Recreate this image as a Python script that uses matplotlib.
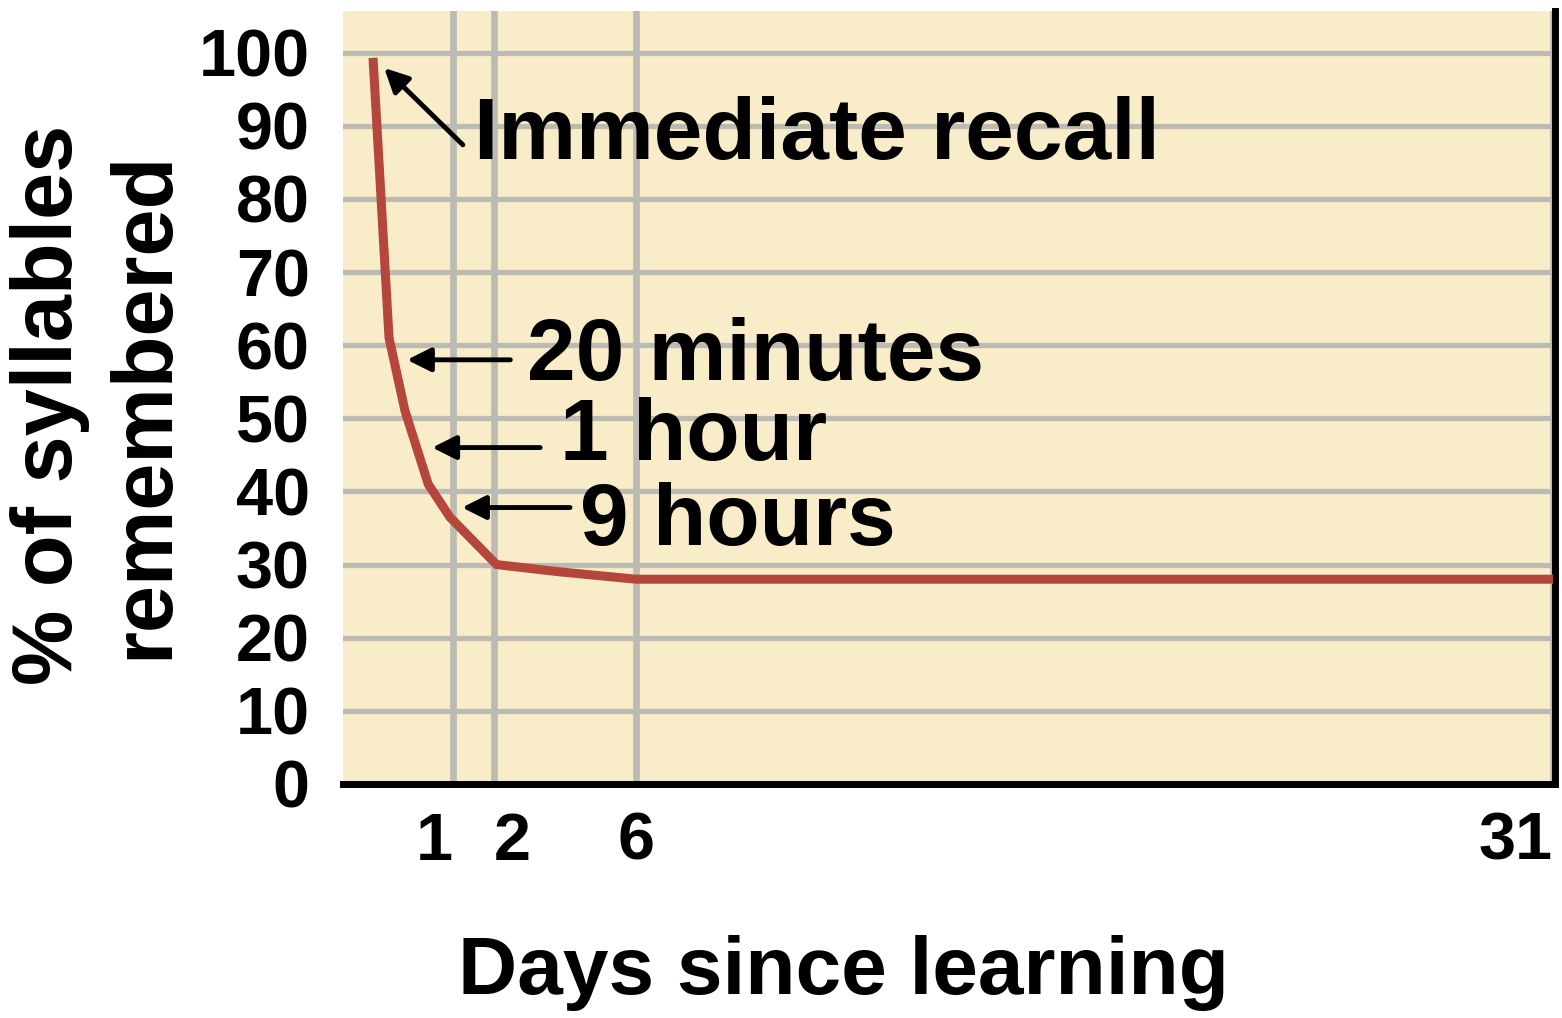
import numpy as np
import matplotlib
matplotlib.use('Agg')
import matplotlib.pyplot as plt

plt.rcParams['font.family'] = ['Liberation Sans', 'DejaVu Sans']

# curve (days since learning, % remembered)
days = [0, 0.2, 0.4, 0.69, 0.96, 2.07, 3.86, 6, 31]
pct = [99.3, 61, 51, 41, 36.5, 30, 29, 28, 28]

x_ticks = [1, 2, 6, 31]
x_labels = ['1', '2', '6', '31']
x_label_ha = ['right', 'left', 'center', 'right']
y_ticks = list(range(0, 101, 10))

# labels: text, arrow tip (day, pct), arrow tail (day, pct), text anchor (day, pct)
notes = [
    ('Immediate recall', (0.14, 97.9), (1.24, 87.4), (1.51, 85.4)),
    ('20 minutes', (0.425, 58.0), (2.46, 58.0), (2.93, 55.3)),
    ('1 hour', (0.74, 46.0), (3.3, 46.0), (3.86, 44.3)),
    ('9 hours', (1.22, 37.8), (4.14, 37.8), (4.42, 32.7)),
]

# the day axis of the original is stretched near zero
day_knots = [-1, 0, 1, 2, 6, 31, 40]
pos_knots = [-80, 0, 80, 121, 263, 1180, 1510]


def fwd(d):
    return np.interp(d, day_knots, pos_knots)


def inv(p):
    return np.interp(p, pos_knots, day_knots)


fig = plt.figure(figsize=(15.62, 10.18), dpi=100)
ax = fig.add_axes([0.2196, 0.2299, 0.7759, 0.7593])
ax.set_facecolor('#f9ecc8')
ax.set_xscale('function', functions=(fwd, inv))
ax.set_xlim(-0.375, 31.05)
ax.set_ylim(0, 105.7)

ax.plot(days, pct, color='#b4463c', lw=6.5, solid_joinstyle='round',
        solid_capstyle='butt', zorder=3)

ax.set_xticks(x_ticks)
ax.set_xticklabels(x_labels)
for lbl, ha in zip(ax.get_xticklabels(), x_label_ha):
    lbl.set_ha(ha)
ax.set_yticks(y_ticks)
ax.tick_params(length=0, labelsize=48)
ax.tick_params(axis='y', pad=24)
ax.tick_params(axis='x', pad=20)
for lbl in ax.get_xticklabels() + ax.get_yticklabels():
    lbl.set_fontweight('bold')

ax.xaxis.grid(True, color='#bbbbb3', lw=4.8, zorder=0)
ax.yaxis.grid(True, color='#bbbbb3', lw=3.8, zorder=0)
ax.set_axisbelow(True)

for s in ['left', 'top']:
    ax.spines[s].set_visible(False)
for s in ['bottom', 'right']:
    ax.spines[s].set_color('black')
    ax.spines[s].set_linewidth(5)

ax.set_xlabel('Days since learning', fontsize=59, fontweight='bold')
ax.xaxis.set_label_coords(0.413, -0.195)
ax.set_ylabel('% of syllables\nremembered', fontsize=61, fontweight='bold',
              linespacing=1.25)
ax.yaxis.set_label_coords(-0.13, 0.49)

for txt, tip, tail, pos in notes:
    ax.annotate('', xy=tip, xytext=tail,
                arrowprops=dict(arrowstyle='-|>', color='black', lw=3.5,
                                mutation_scale=36, shrinkA=0, shrinkB=0),
                zorder=4)
    ax.text(pos[0], pos[1], txt, fontsize=63, fontweight='bold',
            ha='left', va='baseline', zorder=5)

fig.savefig('out.png', dpi=100)
